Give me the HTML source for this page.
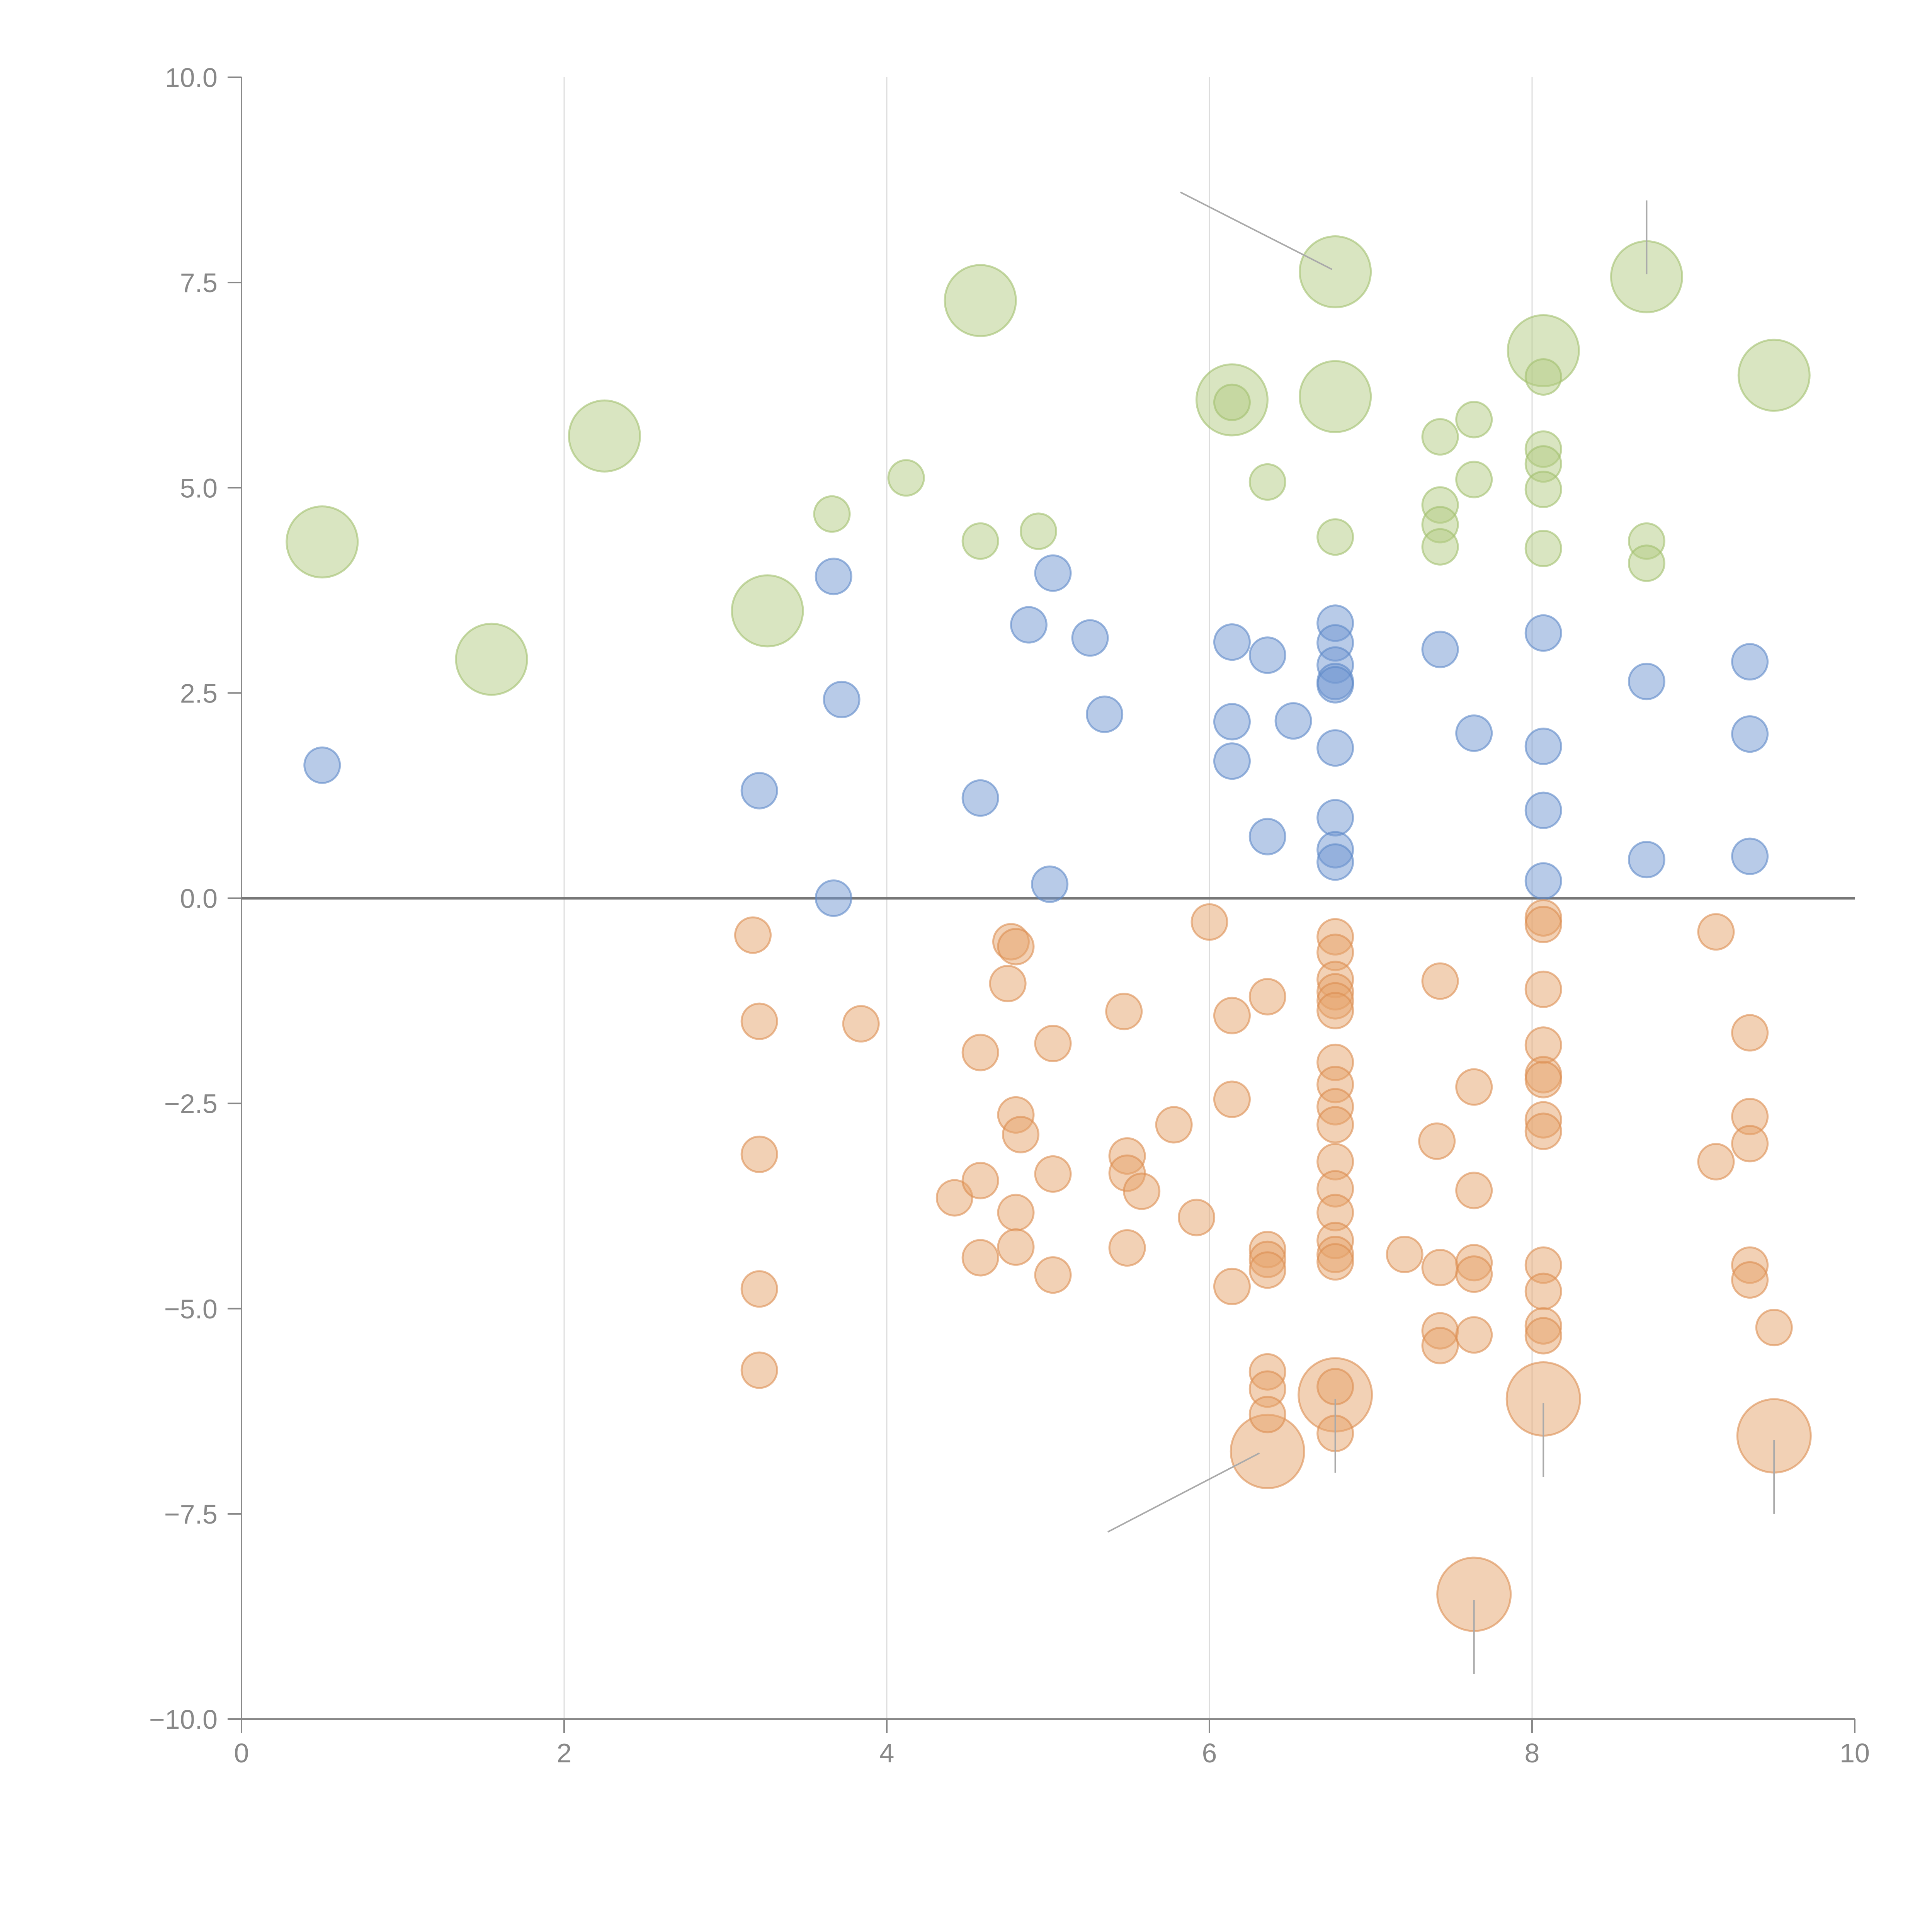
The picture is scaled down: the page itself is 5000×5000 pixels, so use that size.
<!DOCTYPE html>
<html><head><meta charset="utf-8">
<style>html,body{margin:0;padding:0;background:#fff;}svg{display:block;}</style>
</head><body>
<svg id="chart" width="5000" height="5000" viewBox="0 0 5000 5000" xmlns="http://www.w3.org/2000/svg" font-family="'Liberation Sans', Arial, sans-serif">
<rect width="5000" height="5000" fill="#fff"/>
<g id="grid"></g><g id="axes"></g><g id="marks"></g><g id="notes"></g>
</svg>
<script>
const xTicks=[0,2,4,6,8,10];
const yTicks=[-10,-7.5,-5,-2.5,0,2.5,5,7.5,10];
const yTickLabels=["\u221210.0","\u22127.5","\u22125.0","\u22122.5","0.0","7.5".replace("7.5","2.5"),"5.0","7.5","10.0"];
const greenSmallX=[3.66,4.12,4.58,4.94,6.14,6.36,6.78,7.43,7.43,7.43,7.43,7.64,7.64,8.07,8.07,8.07,8.07,8.07,8.71,8.71];
const greenSmallY=[4.68,5.12,4.35,4.47,6.04,5.07,4.40,5.62,4.79,4.55,4.28,5.83,5.10,6.35,5.47,5.29,4.98,4.26,4.35,4.08];
const greenLargeX=[0.50,1.55,2.25,3.26,4.58,6.14,6.78,6.78,8.07,8.71,9.50];
const greenLargeY=[4.34,2.91,5.63,3.50,7.28,6.07,7.63,6.11,6.67,7.57,6.37];
const blueX=[0.50,3.21,3.67,3.72,3.67,4.58,4.88,5.03,5.01,5.26,5.35,6.14,6.14,6.14,6.36,6.36,6.52,6.78,6.78,6.78,6.78,6.78,6.78,6.78,6.78,6.78,7.43,7.64,8.07,8.07,8.07,8.07,8.71,8.71,9.35,9.35,9.35];
const blueY=[1.62,1.31,3.92,2.42,0.0,1.22,3.33,3.96,0.17,3.17,2.24,3.12,2.15,1.67,2.96,0.75,2.16,3.35,3.11,2.84,2.64,2.60,1.83,0.98,0.59,0.44,3.03,2.01,3.23,1.85,1.07,0.21,2.64,0.47,2.88,2.00,0.51];
const orangeSmallX=[3.17,3.21,3.21,3.21,3.21,3.84,4.42,4.58,4.58,4.58,4.75,4.77,4.80,4.80,4.83,4.80,4.80,5.03,5.03,5.03,5.47,5.49,5.49,5.58,5.49,5.78,5.92,6.00,6.14,6.14,6.14,6.36,6.36,6.36,6.36,6.36,6.36,6.36,6.78,6.78,6.78,6.78,6.78,6.78,6.78,6.78,6.78,6.78,6.78,6.78,6.78,6.78,6.78,6.78,6.78,6.78,7.21,7.41,7.43,7.43,7.43,7.43,7.64,7.64,7.64,7.64,7.64,8.07,8.07,8.07,8.07,8.07,8.07,8.07,8.07,8.07,8.07,8.07,8.07,9.14,9.14,9.35,9.35,9.35,9.35,9.35,9.50];
const orangeSmallY=[-0.45,-1.50,-3.12,-4.76,-5.75,-1.53,-3.65,-1.88,-3.44,-4.38,-1.04,-0.53,-0.59,-2.64,-2.88,-3.83,-4.25,-1.77,-3.36,-4.59,-1.38,-3.14,-3.35,-3.57,-4.26,-2.76,-3.89,-0.29,-1.43,-2.45,-4.73,-1.20,-4.28,-4.40,-4.53,-5.77,-5.98,-6.29,-0.47,-0.66,-0.99,-1.14,-1.25,-1.37,-2.00,-2.27,-2.54,-2.76,-3.21,-3.54,-3.83,-4.17,-4.34,-4.43,-5.95,-6.52,-4.34,-2.96,-1.01,-4.50,-5.27,-5.45,-2.30,-3.56,-4.44,-4.58,-5.32,-0.24,-0.32,-1.11,-1.79,-2.15,-2.21,-2.70,-2.84,-4.47,-4.79,-5.21,-5.33,-0.41,-3.21,-1.64,-2.66,-2.99,-4.47,-4.65,-5.23];
const orangeLargeX=[6.36,6.78,7.64,8.07,9.50];
const orangeLargeY=[-6.74,-6.05,-8.48,-6.10,-6.55];
const noteX1=[5.82,8.71,5.37,6.78,8.07,9.50,7.64];
const noteY1=[8.60,8.50,-7.72,-6.10,-6.15,-6.60,-8.55];
const noteX2=[6.76,8.71,6.31,6.78,8.07,9.50,7.64];
const noteY2=[7.66,7.60,-6.76,-7.00,-7.05,-7.50,-9.45];

const X0=625,X1=4800,Y0=4449,Y1=200;
function sx(v){return X0+(v-0)/(10-0)*(X1-X0);}
function sy(v){return Y0-(v+10)/20*(Y0-Y1);}
const NS="http://www.w3.org/2000/svg";
function mk(tag,attrs,parent){const e=document.createElementNS(NS,tag);for(const k in attrs)e.setAttribute(k,attrs[k]);parent.appendChild(e);return e;}
const grid=document.getElementById('grid'),axes=document.getElementById('axes'),marks=document.getElementById('marks'),notes=document.getElementById('notes');

xTicks.forEach(t=>{
  if(t>0&&t<10){const g=mk('line',{x1:sx(t),x2:sx(t),y1:Y1,y2:Y0,stroke:'#dcdcdc','stroke-width':3},grid);
  
  }
  const tk=mk('line',{x1:sx(t),x2:sx(t),y1:Y0,y2:Y0+36,stroke:'#888','stroke-width':4},axes);
  
  
  const lb=mk('text',{x:sx(t),y:Y0+112,'text-anchor':'middle','font-size':70,fill:'#888'},axes);
  lb.textContent=String(t);
  
  
});
yTicks.forEach((t,i)=>{
  const tk=mk('line',{x1:X0-36,x2:X0,y1:sy(t),y2:sy(t),stroke:'#888','stroke-width':4},axes);
  
  
  const lb=mk('text',{x:X0-62,y:sy(t)+25,'text-anchor':'end','font-size':70,fill:'#888'},axes);
  lb.textContent=yTickLabels[i];
  
  
});
const ya=mk('line',{x1:X0,x2:X0,y1:Y1,y2:Y0,stroke:'#888','stroke-width':4},axes);


const xa=mk('line',{x1:X0,x2:X1,y1:Y0,y2:Y0,stroke:'#888','stroke-width':4},axes);


const zl=mk('line',{x1:X0,x2:X1,y1:sy(0),y2:sy(0),stroke:'#777','stroke-width':7},axes);



function series(xs,ys,r,fill,stroke,name){
  xs.forEach((x,i)=>{
    const c=mk('circle',{cx:sx(x),cy:sy(ys[i]),r:r,fill:fill,'fill-opacity':0.5,stroke:stroke,'stroke-opacity':0.6,'stroke-width':5},marks);
    
    
  });
}
series(greenLargeX,greenLargeY,92,'#b3cc84','#a2c06e','green-large-bubble');
series(greenSmallX,greenSmallY,46,'#b3cc84','#a2c06e','green-small-bubble');
series(blueX,blueY,46,'#7198d2','#5e88c8','blue-bubble');
series(orangeLargeX,orangeLargeY,95,'#e6a36c','#dc8e52','orange-large-bubble');
series(orangeSmallX,orangeSmallY,46,'#e6a36c','#dc8e52','orange-small-bubble');

noteX1.forEach((x,i)=>{
  const l=mk('line',{x1:sx(x),y1:sy(noteY1[i]),x2:sx(noteX2[i]),y2:sy(noteY2[i]),stroke:'#aaa','stroke-width':4},notes);
  
  
});
</script>
</body></html>
